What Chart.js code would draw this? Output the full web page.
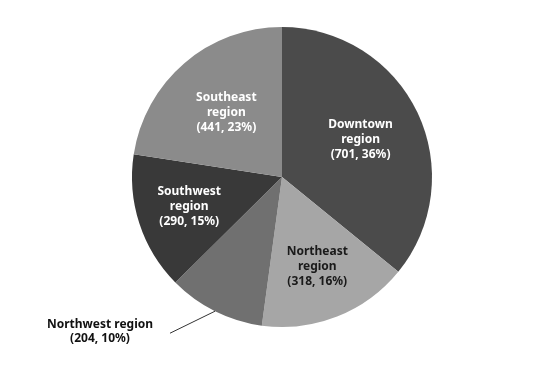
<!DOCTYPE html>
<html>
<head>
<meta charset="utf-8">
<script src="https://cdn.jsdelivr.net/npm/chart.js@4"></script>
<style>
  html, body { margin: 0; padding: 0; background: #fff; }
  #wrap { width: 538px; height: 365px; }
</style>
</head>
<body>
<div id="wrap"><canvas id="pie"></canvas></div>
<script>
// Datos del gráfico
const regions = ['Downtown region', 'Northeast region', 'Northwest region', 'Southwest region', 'Southeast region'];
const counts = [701, 318, 204, 290, 441];
const percents = [36, 16, 10, 15, 23];
const sliceColors = ['#4b4b4b', '#a6a6a6', '#707070', '#393939', '#8b8b8b'];

// Estilo de cada etiqueta: distancia relativa al radio, color, y si va fuera con línea guía
const labelStyles = [
    { r: 0.58, color: '#ffffff' },
    { r: 0.64, color: '#1a1a1a' },
    { outside: true, color: '#111111' },
    { r: 0.65, color: '#ffffff' },
    { r: 0.57, color: '#ffffff' }
];

const sliceLabels = {
    id: 'sliceLabels',
    afterDatasetsDraw(chart) {
        const ctx = chart.ctx;
        const meta = chart.getDatasetMeta(0);
        ctx.save();
        ctx.font = 'bold 12px "Noto Sans", "DejaVu Sans", sans-serif';
        ctx.textAlign = 'center';
        ctx.textBaseline = 'middle';
        meta.data.forEach((arc, i) => {
            const st = labelStyles[i];
            const mid = (arc.startAngle + arc.endAngle) / 2;
            const name = regions[i];
            const value = '(' + counts[i] + ', ' + percents[i] + '%)';
            ctx.fillStyle = st.color;
            if (st.outside) {
                // línea guía desde el borde del sector
                const ex = arc.x + Math.cos(mid) * arc.outerRadius;
                const ey = arc.y + Math.sin(mid) * arc.outerRadius;
                const lx = ex - 45, ly = ey + 22;
                ctx.strokeStyle = '#333';
                ctx.lineWidth = 1;
                ctx.beginPath();
                ctx.moveTo(ex, ey);
                ctx.lineTo(lx, ly);
                ctx.stroke();
                ctx.fillText(name, lx - 70, ly - 9);
                ctx.fillText(value, lx - 70, ly + 5);
            } else {
                const cx = arc.x + Math.cos(mid) * arc.outerRadius * st.r;
                const cy = arc.y + Math.sin(mid) * arc.outerRadius * st.r;
                const parts = name.split(' ');
                ctx.fillText(parts[0], cx, cy - 15);
                ctx.fillText(parts[1], cx, cy);
                ctx.fillText(value, cx, cy + 15);
            }
        });
        ctx.restore();
    }
};

new Chart(document.getElementById('pie').getContext('2d'), {
    type: 'pie',
    data: {
        labels: regions,
        datasets: [{
            data: counts,
            backgroundColor: sliceColors,
            borderWidth: 0
        }]
    },
    options: {
        responsive: true,
        maintainAspectRatio: false,
        animation: false,
        events: [],
        layout: { padding: { top: 27, bottom: 38, left: 132, right: 106 } },
        plugins: { legend: { display: false }, tooltip: { enabled: false } }
    },
    plugins: [sliceLabels]
});
</script>
</body>
</html>
